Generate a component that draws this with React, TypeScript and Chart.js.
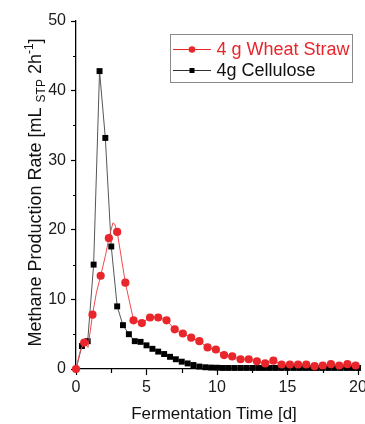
import { useEffect, useRef } from "react";
import { Chart, registerables } from "chart.js";

Chart.register(...registerables);

// Wheat straw markers (every 14 h)
const wheatTimes = [0, 0.58, 1.17, 1.75, 2.33, 2.92, 3.5, 4.08, 4.67, 5.25, 5.83, 6.42, 7.0, 7.58, 8.17, 8.75, 9.33, 9.92, 10.5, 11.08, 11.67, 12.25, 12.83, 13.42, 14.0, 14.58, 15.17, 15.75, 16.33, 16.92, 17.5, 18.08, 18.67, 19.25, 19.83];
const wheatValues = [0, 3.8, 7.8, 13.4, 18.8, 19.7, 12.4, 7.0, 6.6, 7.4, 7.4, 7.0, 5.7, 5.1, 4.5, 4.0, 3.1, 2.8, 2.0, 1.8, 1.4, 1.4, 1.1, 0.8, 1.2, 0.65, 0.65, 0.65, 0.65, 0.4, 0.5, 0.7, 0.5, 0.7, 0.5];

// Wheat straw connecting line (denser record)
const wheatLineTimes = [0, 0.3, 0.58, 0.85, 1.17, 1.45, 1.75, 2.1, 2.33, 2.62, 2.75, 2.92, 3.5, 4.08, 4.67, 5.25, 5.83, 6.42, 7.0, 7.58, 8.17, 8.75, 9.33, 9.92, 10.5, 11.08, 11.67, 12.25, 12.83, 13.42, 14.0, 14.58, 15.17, 15.75, 16.33, 16.92, 17.5, 18.08, 18.67, 19.25, 19.83];
const wheatLineValues = [0, 2.6, 3.8, 3.1, 7.8, 11.0, 13.4, 16.4, 18.8, 21.0, 20.8, 19.7, 12.4, 7.0, 6.6, 7.4, 7.4, 7.0, 5.7, 5.1, 4.5, 4.0, 3.1, 2.8, 2.0, 1.8, 1.4, 1.4, 1.1, 0.8, 1.2, 0.65, 0.65, 0.65, 0.65, 0.4, 0.5, 0.7, 0.5, 0.7, 0.5];

// Cellulose (every 10 h)
const celluloseTimes = [0, 0.42, 0.83, 1.25, 1.67, 2.08, 2.5, 2.92, 3.33, 3.75, 4.17, 4.58, 5.0, 5.42, 5.83, 6.25, 6.67, 7.08, 7.5, 7.92, 8.33, 8.75, 9.17, 9.58, 10.0, 10.42, 10.83, 11.25, 11.67, 12.08, 12.5, 12.92, 13.33, 13.75, 14.17, 14.58, 15.0, 15.42, 15.83, 16.25, 16.67, 17.08, 17.5, 17.92, 18.33, 18.75, 19.17, 19.58, 20.0];
const celluloseValues = [0, 3.3, 4.0, 15.0, 42.8, 33.2, 17.6, 9.0, 6.3, 5.0, 4.0, 3.9, 3.4, 2.9, 2.5, 2.15, 1.75, 1.4, 1.05, 0.8, 0.57, 0.35, 0.25, 0.2, 0.18, 0.15, 0.15, 0.15, 0.15, 0.15, 0.15, 0.15, 0.15, 0.15, 0.15, 0.15, 0.15, 0.15, 0.15, 0.15, 0.15, 0.15, 0.15, 0.15, 0.15, 0.15, 0.15, 0.15, 0.15];

const seriesNames = ["4 g Wheat Straw", "4g Cellulose"];
const xTicks = [0, 5, 10, 15, 20];
const yTicks = [0, 10, 20, 30, 40, 50];
const xMinorTicks = [2.5, 7.5, 12.5, 17.5];
const yMinorTicks = [5, 15, 25, 35, 45];
const xTitle = "Fermentation Time [d]";
const yTitleParts = [
  { text: "Methane Production Rate [mL ", kind: "normal" },
  { text: "STP", kind: "sub" },
  { text: " 2h", kind: "normal" },
  { text: "-1", kind: "sup" },
  { text: "]", kind: "normal" },
];

const RED = "#e8262b";
const FONT = "'Liberation Sans', Arial, sans-serif";

const decorPlugin = {
  id: "decor",
  afterDraw(chart: any) {
    const ctx = chart.ctx as CanvasRenderingContext2D;
    const xs = chart.scales.x;
    const ys = chart.scales.y;
    const area = chart.chartArea;
    ctx.save();
    // minor ticks
    ctx.strokeStyle = "#000";
    ctx.lineWidth = 1.2;
    ctx.beginPath();
    for (const v of xMinorTicks) {
      const px = Math.round(xs.getPixelForValue(v)) + 0.5;
      ctx.moveTo(px, area.bottom);
      ctx.lineTo(px, area.bottom + 4);
    }
    for (const v of yMinorTicks) {
      const py = Math.round(ys.getPixelForValue(v)) + 0.5;
      ctx.moveTo(area.left, py);
      ctx.lineTo(area.left - 3, py);
    }
    ctx.stroke();

    // x title
    ctx.fillStyle = "#111";
    ctx.font = `17px ${FONT}`;
    ctx.textAlign = "center";
    ctx.textBaseline = "alphabetic";
    ctx.fillText(xTitle, 214, 419);

    // y title with sub/superscript
    const fontFor = (k: string) => (k === "normal" ? `18px ${FONT}` : `12px ${FONT}`);
    let total = 0;
    for (const p of yTitleParts) {
      ctx.font = fontFor(p.kind);
      total += ctx.measureText(p.text).width;
    }
    ctx.translate(41, 192.5);
    ctx.rotate(-Math.PI / 2);
    ctx.textAlign = "left";
    let cx = -total / 2;
    for (const p of yTitleParts) {
      ctx.font = fontFor(p.kind);
      const dy = p.kind === "sub" ? 4 : p.kind === "sup" ? -8 : 0;
      ctx.fillText(p.text, cx, dy);
      cx += ctx.measureText(p.text).width;
    }
    ctx.restore();

    // legend
    ctx.save();
    ctx.fillStyle = "#fff";
    ctx.fillRect(170.5, 34.5, 182, 48);
    ctx.strokeStyle = "#8a8a8a";
    ctx.lineWidth = 1;
    ctx.strokeRect(170.5, 34.5, 182, 48);
    const rows = [
      { y: 49.5, color: RED, line: RED, name: seriesNames[0], style: "circle" },
      { y: 70.5, color: "#000", line: "#333", name: seriesNames[1], style: "rect" },
    ];
    for (const r of rows) {
      ctx.strokeStyle = r.line;
      ctx.lineWidth = 1;
      ctx.beginPath();
      ctx.moveTo(173, r.y);
      ctx.lineTo(211, r.y);
      ctx.stroke();
      ctx.fillStyle = r.color;
      if (r.style === "circle") {
        ctx.beginPath();
        ctx.arc(192, r.y, 3.3, 0, Math.PI * 2);
        ctx.fill();
      } else {
        ctx.fillRect(189.5, r.y - 2.5, 5, 5);
      }
      ctx.font = `18px ${FONT}`;
      ctx.textAlign = "left";
      ctx.textBaseline = "middle";
      ctx.fillStyle = r.style === "circle" ? RED : "#111";
      ctx.fillText(r.name, 216.5, r.y + 1);
    }
    ctx.restore();
  },
};

export default function App() {
  const ref = useRef<HTMLCanvasElement | null>(null);
  useEffect(() => {
    document.body.style.margin = "0";
    const canvas = ref.current;
    if (!canvas) return;
    const chart = new Chart(canvas, {
      type: "line",
      data: {
        datasets: [
          {
            label: seriesNames[0],
            data: wheatTimes.map((t, i) => ({ x: t, y: wheatValues[i] })),
            showLine: false,
            pointStyle: "circle",
            pointRadius: 4.1,
            pointBackgroundColor: RED,
            pointBorderColor: RED,
            pointBorderWidth: 0,
            borderColor: RED,
            clip: false,
            order: 0,
          },
          {
            label: seriesNames[0] + " line",
            data: wheatLineTimes.map((t, i) => ({ x: t, y: wheatLineValues[i] })),
            borderColor: "#ee4a4e",
            borderWidth: 1,
            pointRadius: 0,
            tension: 0,
            clip: false,
            order: 1,
          },
          {
            label: seriesNames[1],
            data: celluloseTimes.map((t, i) => ({ x: t, y: celluloseValues[i] })),
            borderColor: "#555",
            borderWidth: 1,
            pointStyle: "rect",
            pointRadius: 4.2,
            pointBackgroundColor: "#000",
            pointBorderColor: "#000",
            pointBorderWidth: 0,
            tension: 0,
            clip: false,
            order: 2,
          },
        ],
      },
      options: {
        responsive: false,
        animation: false,
        devicePixelRatio: 1,
        layout: { padding: { left: 0, top: 21, right: 7, bottom: 0 } },
        plugins: { legend: { display: false }, tooltip: { enabled: false } },
        scales: {
          x: {
            type: "linear",
            min: 0,
            max: 20,
            afterBuildTicks: (s: any) => {
              s.ticks = xTicks.map((v) => ({ value: v }));
            },
            afterFit: (s: any) => {
              s.height = 55;
              s.paddingLeft = 0;
              s.paddingRight = 0;
            },
            grid: { display: true, drawOnChartArea: false, drawTicks: true, tickLength: 6, tickColor: "#000", tickWidth: 1.2, color: "#000" },
            border: { display: true, color: "#000", width: 1.3 },
            ticks: { font: { family: FONT, size: 16 }, color: "#1a1a1a", padding: 3, maxRotation: 0, autoSkip: false },
          },
          y: {
            type: "linear",
            min: 0,
            max: 50,
            afterBuildTicks: (s: any) => {
              s.ticks = yTicks.map((v) => ({ value: v }));
            },
            afterFit: (s: any) => {
              s.width = 76;
              s.paddingTop = 0;
              s.paddingBottom = 0;
            },
            grid: { display: true, drawOnChartArea: false, drawTicks: true, tickLength: 5, tickColor: "#000", tickWidth: 1.2, color: "#000" },
            border: { display: true, color: "#000", width: 1.3 },
            ticks: { font: { family: FONT, size: 16 }, color: "#1a1a1a", padding: 5, autoSkip: false },
          },
        },
      },
      plugins: [decorPlugin],
    } as any);
    return () => chart.destroy();
  }, []);
  return (
    <div style={{ position: "absolute", left: 0, top: 0, width: 365, height: 424, background: "#fff" }}>
      <canvas ref={ref} width={365} height={424} style={{ display: "block", width: 365, height: 424 }} />
    </div>
  );
}
